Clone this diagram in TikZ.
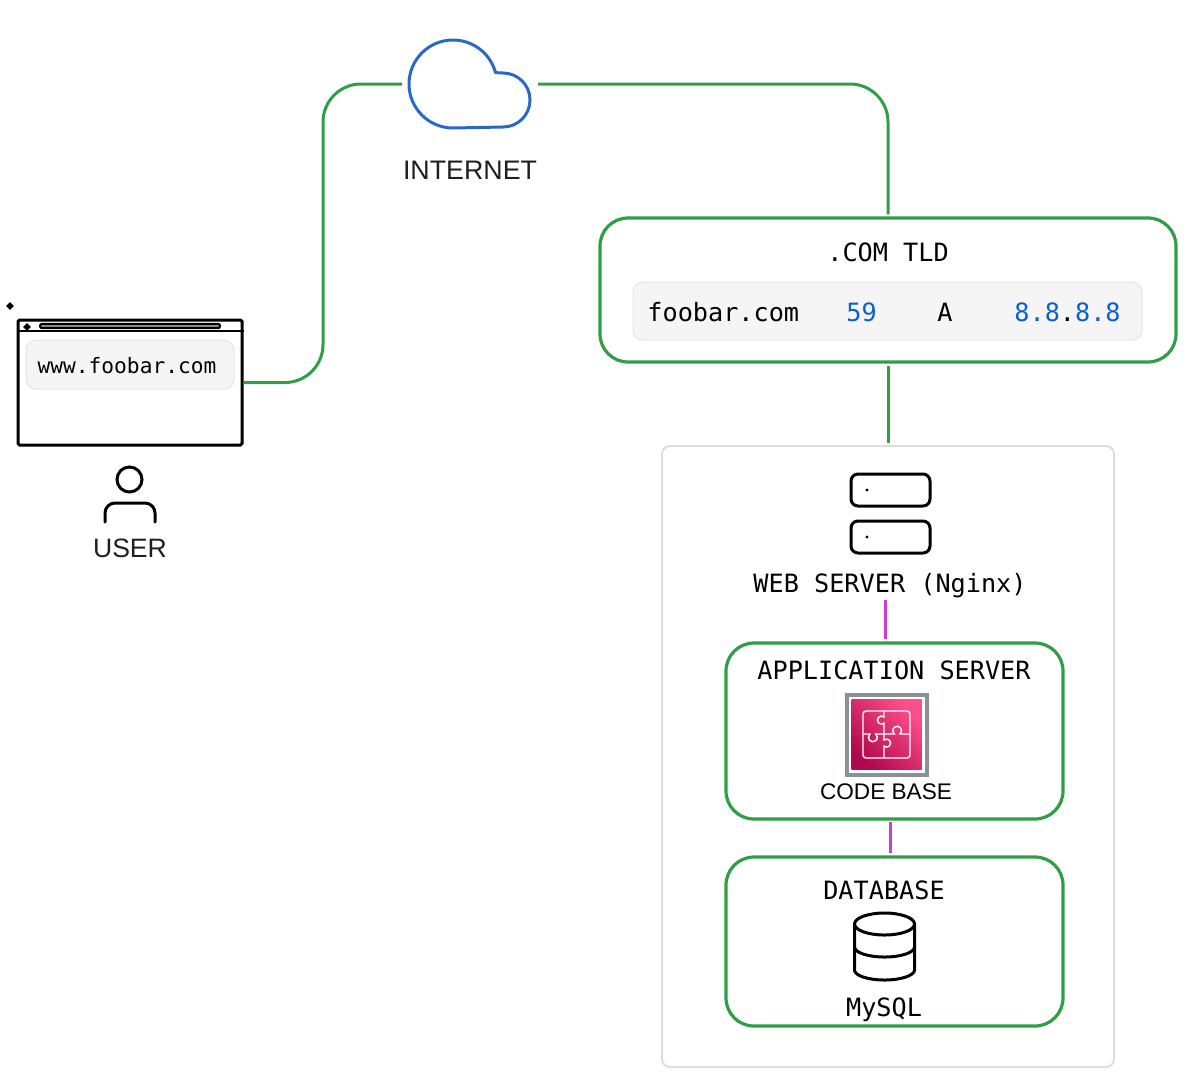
\documentclass[tikz,border=0pt]{standalone}
\usepackage{fontspec}
\setmainfont{Liberation Sans}
\setmonofont{DejaVu Sans Mono}
\usetikzlibrary{arrows.meta,positioning,fit,shapes.geometric}
\definecolor{linkgreen}{HTML}{2F9E44}
\definecolor{linkpink}{HTML}{C93DD6}
\definecolor{cloudblue}{HTML}{2A68C8}
\definecolor{valblue}{HTML}{0B5FCF}
\definecolor{rowfill}{HTML}{F5F5F5}
\definecolor{rowline}{HTML}{E4E4E4}
\definecolor{groupline}{HTML}{DDDDDD}
\definecolor{iconframe}{HTML}{879196}
\definecolor{icondark}{HTML}{B0084D}
\definecolor{iconlight}{HTML}{FF4F8B}
\tikzset{
	greenbox/.style={draw=linkgreen,line width=1.6pt,rounded corners=14pt,inner sep=0pt},
	rowbox/.style={draw=rowline,fill=rowfill,line width=0.5pt,rounded corners=5pt,inner sep=0pt},
	serverbox/.style={draw=black,line width=1.5pt,rounded corners=3.5pt,minimum width=39.5pt,minimum height=16pt,inner sep=0pt},
	sketchline/.style={draw=black,line width=1.5pt,line cap=round},
	monotext/.style={font=\ttfamily\fontsize{12.6}{15}\selectfont,inner sep=0pt},
	sanstext/.style={text=black!88,font=\fontsize{13.4}{16}\selectfont,inner sep=0pt},
	greenlink/.style={draw=linkgreen,line width=1.5pt,rounded corners=19pt},
	pinklink/.style={draw=linkpink,line width=1.5pt},
}
\begin{document}
\begin{tikzpicture}[x=0.5pt,y=-0.5pt]
	\useasboundingbox (0,0) rectangle (1197,1088);

	% boxes
	\node[draw=groupline,line width=1pt,rounded corners=4pt,minimum width=226pt,minimum height=310.5pt] (group) at (888,756.5) {};
	\node[greenbox,minimum width=288pt,minimum height=72pt] (tld) at (888,290) {};
	\node[greenbox,minimum width=168.5pt,minimum height=88pt] (app) at (894.5,731) {};
	\node[greenbox,minimum width=168.5pt,minimum height=84.5pt] (db) at (894.5,941.5) {};
	\node[rowbox,minimum width=254.5pt,minimum height=29pt] (row) at (887.5,311) {};
	\node[draw=black,line width=1.5pt,rounded corners=0.8pt,minimum width=112pt,minimum height=62.5pt,inner sep=0pt] (browser) at (130,382.5) {};
	\node[minimum width=68pt,minimum height=45pt,inner sep=0pt,outer sep=0pt] (cloud) at (470,84) {};

	% browser
	\coordinate (barleft) at (18,331);
	\draw[line width=1pt] (barleft) -- (barleft -| browser.east);
	\node[draw=black,fill=black!45,line width=1pt,rounded corners=1pt,minimum width=90pt,minimum height=2.2pt,inner sep=0pt] (slot) at (130,326) {};
	\node[diamond,fill=black,minimum size=4pt,inner sep=0pt] (dotbar) at (27,327) {};
	\node[diamond,fill=black,minimum size=4pt,inner sep=0pt] (dotout) at (10,306) {};
	\node[rowbox,minimum width=104pt,minimum height=24.5pt] (addr) at (130,364.5) {};
	\node[monotext,font=\ttfamily\fontsize{10.6}{13}\selectfont] (url) at (127,366) {www.foobar.com};

	% user
	\node[circle,draw=black,line width=1.5pt,minimum size=12.5pt,inner sep=0pt] (head) at (129.5,479.5) {};
	\draw[sketchline,rounded corners=5pt] (105,522) -- (105,503) -- (155,503) -- (155,522);
	\node[sanstext,font=\fontsize{13.3}{16}\selectfont] (user) at (130,548) {USER};

	% cloud
	\draw[draw=cloudblue,line width=1.5pt,line join=round] (453,128) arc[start angle=270,end angle=15,radius=22pt] -- (503,73) arc[start angle=90,end angle=-90,radius=13.5pt] -- cycle;
	\node[sanstext] (inet) at (470,170) {INTERNET};

	% tld
	\node[monotext] (tldname) at (888,252) {.COM TLD};
	\node[monotext,anchor=base west] (rowname) at (647,321) {foobar.com};
	\node[monotext,anchor=base west,text=valblue] (rowttl) at (846,321) {59};
	\node[monotext,anchor=base west] (rowtype) at (937,321) {A};
	\node[monotext,anchor=base west,text=valblue] (rowip) at (1014,321) {8.8{\color{black}.}8.8};

	% web server
	\node[serverbox] (srvtop) at (890.5,490) {};
	\node[serverbox] (srvbot) at (890.5,537) {};
	\node[circle,fill=black,minimum size=1.6pt,inner sep=0pt] (ledtop) at (867,490) {};
	\node[circle,fill=black,minimum size=1.6pt,inner sep=0pt] (ledbot) at (867,537) {};
	\node[monotext,anchor=base] (web) at (890,592) {WEB SERVER (Nginx)};
	\coordinate (webtail) at (885,600);

	% application server
	\node[monotext] (apptxt) at (894,670) {APPLICATION SERVER};
	\node[draw=iconframe,line width=2pt,minimum size=40pt,inner sep=0pt] (frame) at (886.5,734.5) {};
	\node[minimum size=35pt,inner sep=0pt,left color=iconlight,right color=icondark,shading angle=-45] (puzzle) at (886.5,734.5) {};
	\begin{scope}[draw=white,line width=0.7pt]
		\draw[rounded corners=1.5pt] (863,711) rectangle (910,758);
		\draw (884,711) -- (884,717) arc[start angle=50,end angle=310,radius=2pt] -- (884,734);
		\draw (910,734) -- (900,734) arc[start angle=-50,end angle=230,radius=2.2pt] -- (884,734);
		\draw (863,734) -- (870,734) arc[start angle=130,end angle=410,radius=2.2pt] -- (884,734);
		\draw (884,734) -- (884,740) arc[start angle=130,end angle=-130,radius=2pt] -- (884,758);
	\end{scope}
	\node[sanstext,text=black,font=\fontsize{11.3}{14}\selectfont] (code) at (886,792) {CODE BASE};

	% database
	\node[monotext] (dbtxt) at (884,890) {DATABASE};
	\begin{scope}[sketchline]
		\draw (884.5,924) ellipse[x radius=15pt,y radius=5.5pt];
		\draw (854.5,924) -- (854.5,970) arc[start angle=180,end angle=360,x radius=15pt,y radius=5pt] -- (914.5,924);
		\draw (854.5,947) arc[start angle=180,end angle=360,x radius=15pt,y radius=5pt];
	\end{scope}
	\node[monotext,anchor=base] (mysql) at (884,1016) {MySQL};

	% links
	\coordinate (netbend) at (323,84);
	\draw[greenlink] (browser.east) -| (netbend) -- (cloud.west);
	\draw[greenlink,shorten >=1pt] (cloud.east) -| (tld.north);
	\draw[greenlink,shorten <=1pt,shorten >=1pt] (tld.south) -- (group.north);
	\draw[pinklink,shorten >=1pt] (webtail) -- (webtail |- app.north);
	\draw[pinklink,shorten <=0.5pt,shorten >=1pt] ([xshift=-2.25pt]app.south) -- ([xshift=-2.25pt]db.north);
\end{tikzpicture}
\end{document}
